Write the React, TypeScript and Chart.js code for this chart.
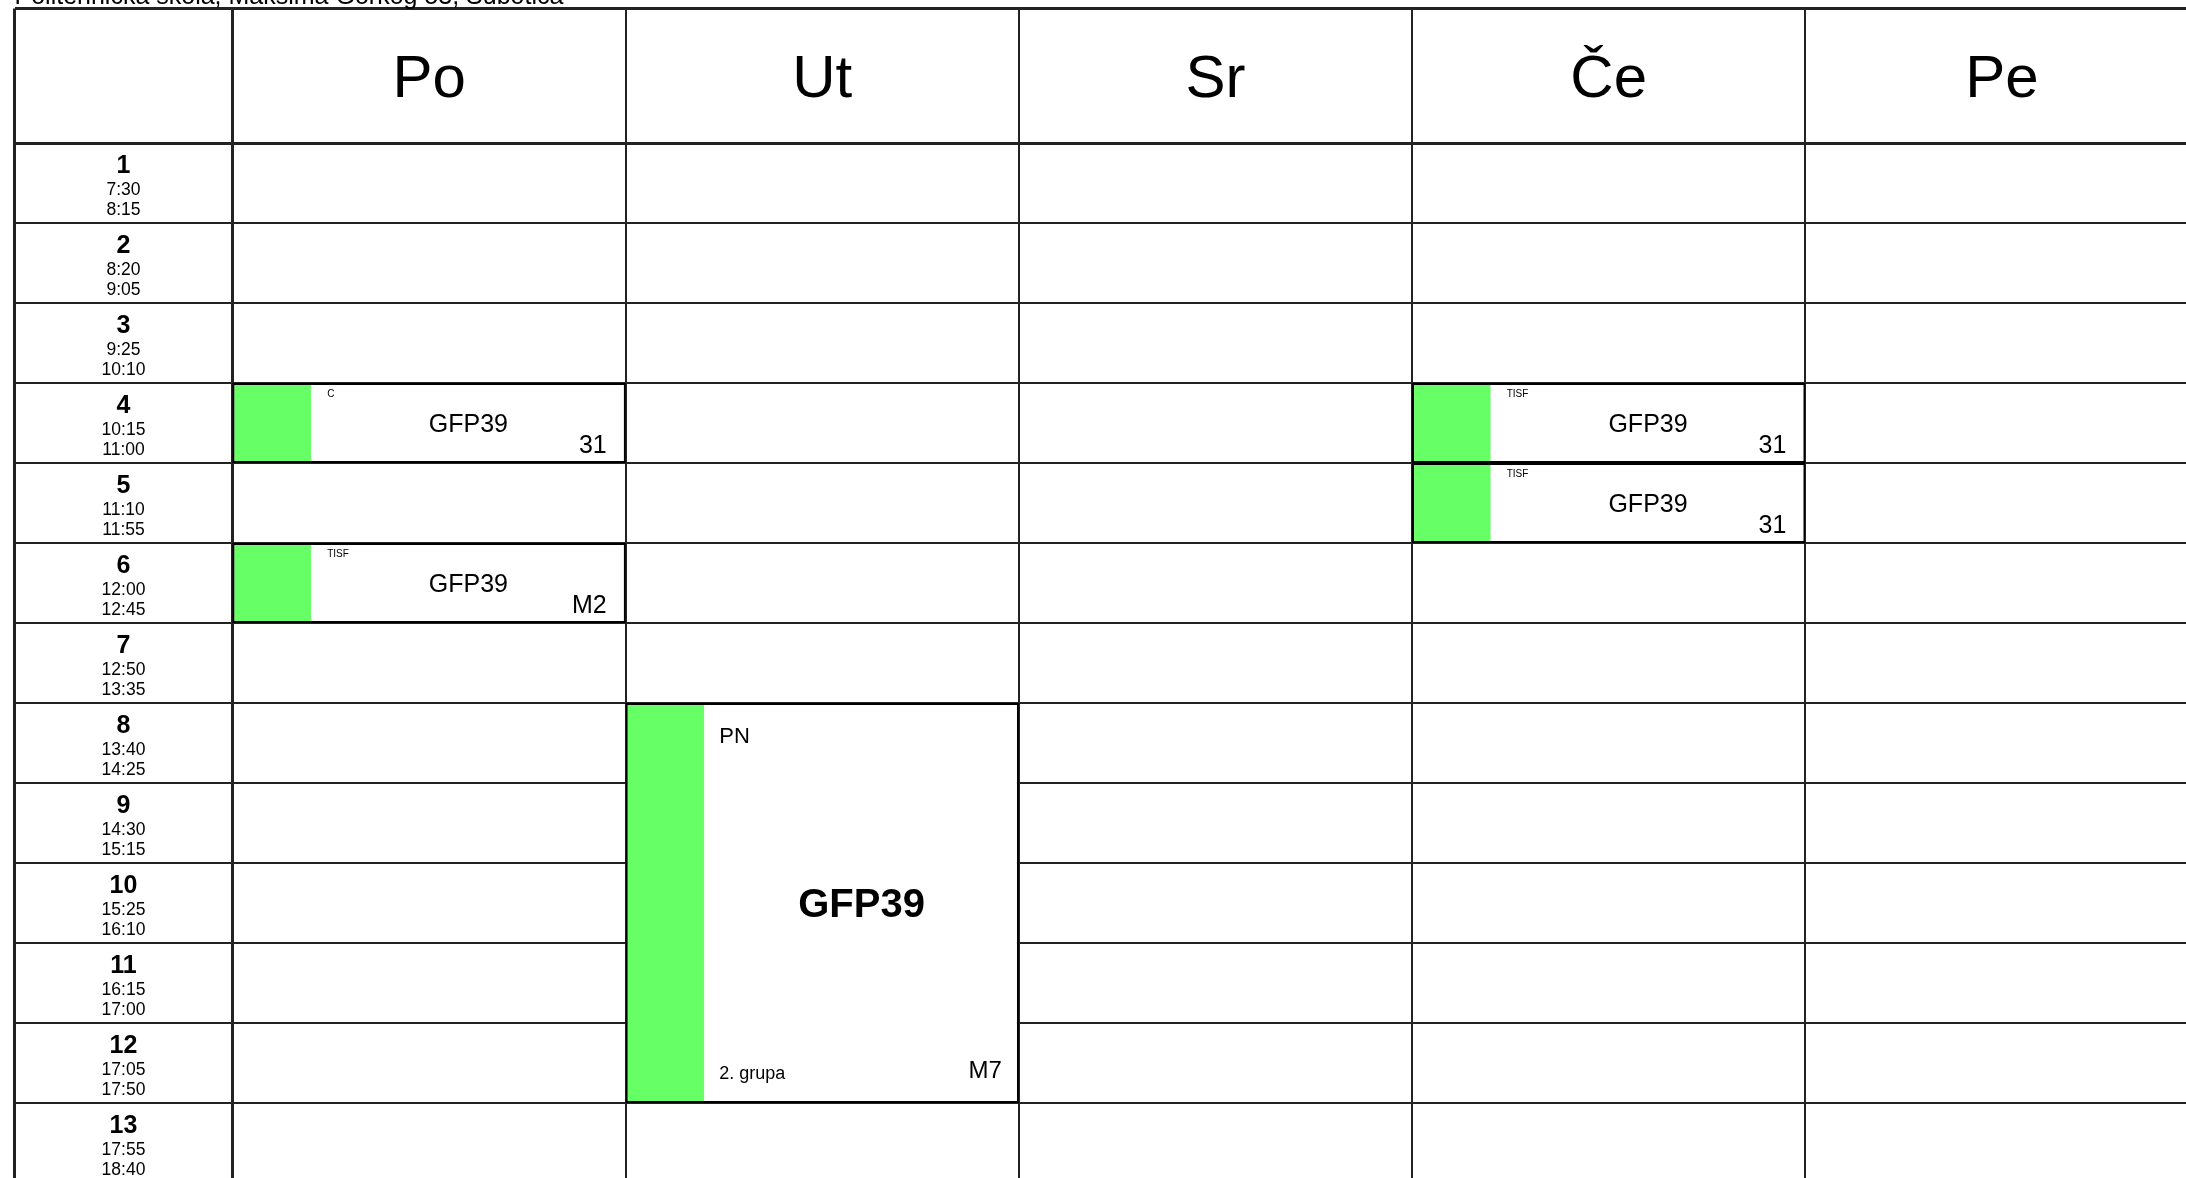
import { useEffect, useRef } from 'react';
import { Chart, registerables } from 'chart.js';

Chart.register(...registerables);

// ---------- data ----------
const TITLE = 'Politehnička škola, Maksima Gorkog 53, Subotica';
const DAYS = ['Po', 'Ut', 'Sr', 'Če', 'Pe'];
const PERIODS = ['1', '2', '3', '4', '5', '6', '7', '8', '9', '10', '11', '12', '13'];
const PERIOD_START = ['7:30', '8:20', '9:25', '10:15', '11:10', '12:00', '12:50', '13:40', '14:30', '15:25', '16:15', '17:05', '17:55'];
const PERIOD_END = ['8:15', '9:05', '10:10', '11:00', '11:55', '12:45', '13:35', '14:25', '15:15', '16:10', '17:00', '17:50', '18:40'];

const LESSON_DAY = ['Po', 'Po', 'Če', 'Če', 'Ut'];
const LESSON_FIRST = [4, 6, 4, 5, 8];
const LESSON_LAST = [4, 6, 4, 5, 12];
const LESSON_SUBJECT = ['C', 'TISF', 'TISF', 'TISF', 'PN'];
const LESSON_CLASS = ['GFP39', 'GFP39', 'GFP39', 'GFP39', 'GFP39'];
const LESSON_ROOM = ['31', 'M2', '31', '31', 'M7'];
const LESSON_GROUP = ['', '', '', '', '2. grupa'];

// ---------- layout / style ----------
const CANVAS_W = 2212;
const CANVAS_H = 1190;
const PAD = { left: 14.5, right: 13.5, top: 8.5, bottom: 7 };
const TIME_COL = 0.5544; // width of the period column, in day-column units
const HEADER_ROWS = 1.68125; // header height, in row units
const X_MIN = -TIME_COL;
const X_MAX = DAYS.length;
const Y_MIN = -HEADER_ROWS;
const Y_MAX = PERIODS.length;
const COL_PX = (CANVAS_W - PAD.left - PAD.right) / (X_MAX - X_MIN);
const STRIP = 0.2;
const GREEN = '#66ff66';
const LINE = '#222222';
const FONT = '"Liberation Sans", Arial, Helvetica, sans-serif';
const CAP = 0.716;

const X_LINES = [X_MIN, ...DAYS.map((_, i) => i), DAYS.length];
const Y_LINES = [Y_MIN, ...PERIODS.map((_, i) => i), PERIODS.length];

const cellData = LESSON_DAY.map((d, i) => ({
  x: DAYS.indexOf(d) + 0.5,
  y: [LESSON_FIRST[i] - 1, LESSON_LAST[i]],
}));
const stripData = LESSON_DAY.map((d, i) => ({
  x: DAYS.indexOf(d) + STRIP / 2,
  y: [LESSON_FIRST[i] - 1, LESSON_LAST[i]],
}));

const textPlugin = {
  id: 'timetableText',
  afterDatasetsDraw(chart: any) {
    const { ctx, chartArea } = chart;
    const xs = chart.scales.x;
    const ys = chart.scales.y;
    ctx.save();
    ctx.fillStyle = '#000';
    ctx.textBaseline = 'alphabetic';

    // title
    ctx.font = `25px ${FONT}`;
    ctx.textAlign = 'left';
    ctx.fillText(TITLE, chartArea.left, chartArea.top - 4.5);

    // day headers
    const headMid = ys.getPixelForValue(Y_MIN / 2);
    ctx.font = `60px ${FONT}`;
    ctx.textAlign = 'center';
    DAYS.forEach((d, i) => {
      ctx.fillText(d, xs.getPixelForValue(i + 0.5), headMid + (60 * CAP) / 2);
    });

    // period column
    const tx = xs.getPixelForValue(X_MIN / 2);
    PERIODS.forEach((p, i) => {
      const top = ys.getPixelForValue(i);
      ctx.font = `bold 25px ${FONT}`;
      ctx.fillText(p, tx, top + 29.7);
      ctx.font = `17.5px ${FONT}`;
      ctx.fillText(PERIOD_START[i], tx, top + 52);
      ctx.fillText(PERIOD_END[i], tx, top + 72.3);
    });

    // lesson texts
    const meta = chart.getDatasetMeta(1);
    meta.data.forEach((el: any, i: number) => {
      const { x, y, base, width } = el.getProps(['x', 'y', 'base', 'width'], true);
      const left = x - width / 2;
      const right = x + width / 2;
      const top = Math.min(y, base);
      const bottom = Math.max(y, base);
      const sr = left + STRIP * width;
      const cx = (sr + right) / 2;
      const cy = (top + bottom) / 2;
      const big = LESSON_LAST[i] > LESSON_FIRST[i];
      if (big) {
        ctx.textAlign = 'left';
        ctx.font = `22px ${FONT}`;
        ctx.fillText(LESSON_SUBJECT[i], sr + 15, top + 39.7);
        ctx.font = `18px ${FONT}`;
        ctx.fillText(LESSON_GROUP[i], sr + 15, bottom - 24);
        ctx.textAlign = 'center';
        ctx.font = `bold 40px ${FONT}`;
        ctx.fillText(LESSON_CLASS[i], cx, cy + (40 * CAP) / 2);
        ctx.textAlign = 'right';
        ctx.font = `24px ${FONT}`;
        ctx.fillText(LESSON_ROOM[i], right - 17, bottom - 25);
      } else {
        ctx.textAlign = 'left';
        ctx.font = `10px ${FONT}`;
        ctx.fillText(LESSON_SUBJECT[i], sr + 16, top + 14);
        ctx.textAlign = 'center';
        ctx.font = `25px ${FONT}`;
        ctx.fillText(LESSON_CLASS[i], cx, cy + (25 * CAP) / 2);
        ctx.textAlign = 'right';
        ctx.fillText(LESSON_ROOM[i], right - 19, bottom - 10);
      }
    });
    ctx.restore();
  },
};

export default function App() {
  const ref = useRef<HTMLCanvasElement>(null);
  useEffect(() => {
    const chart = new Chart(ref.current as HTMLCanvasElement, {
      type: 'bar',
      data: {
        datasets: [
          {
            label: 'strip',
            data: stripData as any,
            backgroundColor: GREEN,
            borderColor: '#000',
            borderWidth: 2,
            borderSkipped: 'right',
            barThickness: COL_PX * STRIP,
            grouped: false,
            inflateAmount: 0,
          } as any,
          {
            label: 'lessons',
            data: cellData as any,
            backgroundColor: '#ffffff',
            borderColor: '#000',
            borderWidth: 2,
            borderSkipped: false,
            barThickness: COL_PX,
            grouped: false,
            inflateAmount: 0,
          } as any,
        ],
      },
      options: {
        responsive: false,
        animation: false,
        devicePixelRatio: 1,
        events: [],
        layout: { padding: PAD },
        plugins: { legend: { display: false }, title: { display: false }, tooltip: { enabled: false } },
        scales: {
          x: {
            type: 'linear',
            min: X_MIN,
            max: X_MAX,
            offset: false,
            afterBuildTicks: (s: any) => {
              s.ticks = X_LINES.map((v) => ({ value: v }));
            },
            grid: {
              offset: false,
              drawTicks: false,
              color: LINE,
              lineWidth: (c: any) => (c.tick && (c.tick.value === X_MIN || c.tick.value === 0) ? 3 : 2),
            },
            border: { display: false },
            ticks: { display: false },
          },
          y: {
            type: 'linear',
            reverse: true,
            min: Y_MIN,
            max: Y_MAX,
            afterBuildTicks: (s: any) => {
              s.ticks = Y_LINES.map((v) => ({ value: v }));
            },
            grid: {
              drawTicks: false,
              color: LINE,
              lineWidth: (c: any) => (c.tick && (c.tick.value === Y_MIN || c.tick.value === 0) ? 3 : 2),
            },
            border: { display: false },
            ticks: { display: false },
          },
        },
      } as any,
      plugins: [textPlugin],
    });
    return () => chart.destroy();
  }, []);
  return (
    <div
      style={{
        position: 'fixed',
        left: 0,
        top: 0,
        width: '100vw',
        height: '100vh',
        overflow: 'hidden',
        background: '#fff',
      }}
    >
      <canvas
        ref={ref}
        width={CANVAS_W}
        height={CANVAS_H}
        style={{ display: 'block', width: `${CANVAS_W}px`, height: `${CANVAS_H}px` }}
      />
    </div>
  );
}
